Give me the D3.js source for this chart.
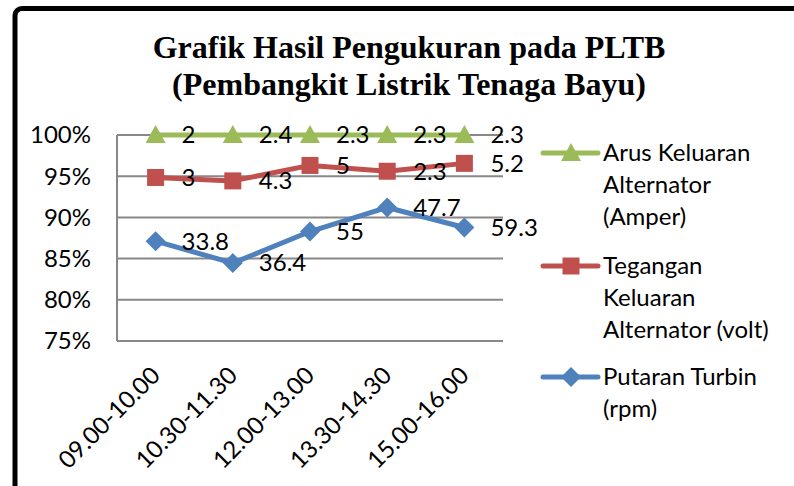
<!DOCTYPE html>
<html lang="id">
<head>
<meta charset="UTF-8">
<title>Grafik Hasil Pengukuran pada PLTB</title>
<script src="https://d3js.org/d3.v7.min.js"></script>
<style>
    body { margin: 0; background: #fff; }
    .title { font-family: "Liberation Serif", "Times New Roman", serif; font-weight: bold; font-size: 32px; }
    .lbl { font-family: Lato, "Open Sans", sans-serif; font-size: 24px; fill: #000; }
    .grid line { stroke: #888; stroke-width: 2; }
</style>
</head>
<body>
<svg id="chart" width="794" height="486"></svg>
<script>
const categories = ["09.00-10.00", "10.30-11.30", "12.00-13.00", "13.30-14.30", "15.00-16.00"];
const putaranTurbin = [33.8, 36.4, 55, 47.7, 59.3];
const teganganKeluaran = [3, 4.3, 5, 2.3, 5.2];
const arusKeluaran = [2, 2.4, 2.3, 2.3, 2.3];
const yTicks = [0.75, 0.8, 0.85, 0.9, 0.95, 1];

const seriesInfo = [
    {key: "putaran", values: putaranTurbin, color: "#4F81BD", marker: "diamond",
     legend: ["Putaran Turbin", "(rpm)"]},
    {key: "tegangan", values: teganganKeluaran, color: "#C0504D", marker: "square",
     legend: ["Tegangan", "Keluaran", "Alternator (volt)"]},
    {key: "arus", values: arusKeluaran, color: "#9BBB59", marker: "triangle",
     legend: ["Arus Keluaran", "Alternator", "(Amper)"]}
];

const svg = d3.select("#chart");
const margin = {left: 117, right: 503, top: 135, bottom: 341};

// frame
svg.append("rect")
   .attr("x", 15).attr("y", 8.5)
   .attr("width", 1000).attr("height", 800)
   .attr("rx", 7)
   .attr("fill", "none")
   .attr("stroke", "#000")
   .attr("stroke-width", 5);

// title
svg.append("text").attr("class", "title")
   .attr("x", 409).attr("y", 58).attr("text-anchor", "middle")
   .text("Grafik Hasil Pengukuran pada PLTB");
svg.append("text").attr("class", "title")
   .attr("x", 409).attr("y", 95).attr("text-anchor", "middle")
   .text("(Pembangkit Listrik Tenaga Bayu)");

// 100% stacked data
const table = categories.map((c, i) => {
    const row = {cat: c};
    seriesInfo.forEach(s => row[s.key] = s.values[i]);
    return row;
});
const stacked = d3.stack()
    .keys(seriesInfo.map(s => s.key))
    .offset(d3.stackOffsetExpand)(table);

const x = d3.scaleBand().domain(categories).range([margin.left, margin.right]);
const y = d3.scaleLinear().domain([0.75, 1]).range([margin.bottom, margin.top]);

// gridlines
svg.append("g").attr("class", "grid")
   .selectAll("line").data(yTicks).enter().append("line")
   .attr("x1", margin.left).attr("x2", margin.right)
   .attr("y1", d => y(d)).attr("y2", d => y(d));

// y axis line
svg.append("line")
   .attr("x1", margin.left).attr("x2", margin.left)
   .attr("y1", margin.top).attr("y2", margin.bottom)
   .attr("stroke", "#888").attr("stroke-width", 2);

// y labels
svg.selectAll(".ylab").data(yTicks).enter().append("text")
   .attr("class", "lbl")
   .attr("x", 91).attr("y", d => y(d))
   .attr("dy", "0.35em")
   .attr("text-anchor", "end")
   .text(d => d3.format(".0%")(d));

// x labels
svg.selectAll(".xlab").data(categories).enter().append("text")
   .attr("class", "lbl")
   .attr("transform", d => `translate(${x(d) + x.bandwidth() / 2},${margin.bottom + 30}) rotate(-45)`)
   .attr("text-anchor", "end")
   .attr("dy", "0.35em")
   .text(d => d);

const cx = d => x(d.data.cat) + x.bandwidth() / 2;

function drawMarker(g, type, color, px, py) {
    if (type === "diamond") {
        g.append("path").attr("d", `M${px},${py - 10}L${px + 10},${py}L${px},${py + 10}L${px - 10},${py}Z`)
         .attr("fill", color);
    } else if (type === "square") {
        g.append("rect").attr("x", px - 8.5).attr("y", py - 8.5)
         .attr("width", 17).attr("height", 17).attr("fill", color);
    } else {
        g.append("path").attr("d", `M${px},${py - 10}L${px + 10},${py + 8}L${px - 10},${py + 8}Z`)
         .attr("fill", color);
    }
}

const line = d3.line().x(cx).y(d => y(d[1]));

stacked.forEach((layer, si) => {
    const s = seriesInfo[si];
    const g = svg.append("g");
    g.append("path").datum(layer)
     .attr("d", line)
     .attr("fill", "none")
     .attr("stroke", s.color)
     .attr("stroke-width", 5)
     .attr("stroke-linejoin", "round");
    layer.forEach(d => drawMarker(g, s.marker, s.color, cx(d), y(d[1])));
    g.selectAll(".dlab").data(layer).enter().append("text")
     .attr("class", "lbl")
     .attr("x", d => cx(d) + 26)
     .attr("y", d => y(d[1]))
     .attr("dy", "0.35em")
     .text(d => d.data[s.key]);
});

// legend
const legendTop = [153, 266, 377];
const legendOrder = [2, 1, 0];
legendOrder.forEach((si, li) => {
    const s = seriesInfo[si];
    const ly = legendTop[li];
    const g = svg.append("g");
    g.append("line")
     .attr("x1", 543).attr("x2", 598).attr("y1", ly).attr("y2", ly)
     .attr("stroke", s.color).attr("stroke-width", 5).attr("stroke-linecap", "round");
    drawMarker(g, s.marker, s.color, 571, ly);
    s.legend.forEach((t, k) => {
        g.append("text").attr("class", "lbl")
         .attr("x", 603).attr("y", ly + k * 32)
         .attr("dy", "0.35em")
         .text(t);
    });
});
</script>
</body>
</html>
